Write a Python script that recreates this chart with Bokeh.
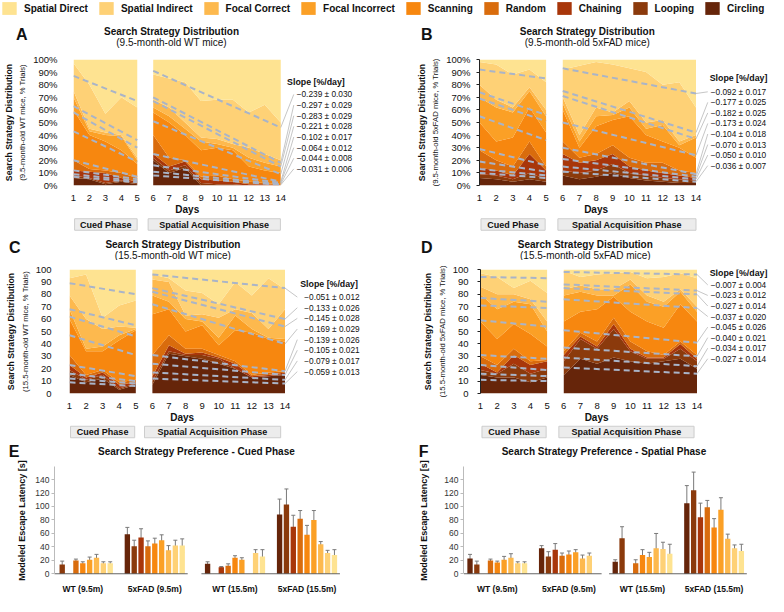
import numpy as np
from bokeh.plotting import figure
from bokeh.layouts import column, row
from bokeh.models import (ColumnDataSource, Legend, LegendItem, LinearAxis,
                          FixedTicker, Range1d, Whisker, TeeHead, PrintfTickFormatter)
from bokeh.core.properties import value
from bokeh.embed import file_html
from bokeh.resources import INLINE

FONT = "Liberation Sans"

# ---------------- categories ----------------
STRATEGIES = ["Circling", "Looping", "Chaining", "Random", "Scanning",
              "Focal Incorrect", "Focal Correct", "Spatial Indirect", "Spatial Direct"]
COLORS = ["#66250A", "#8B3A0C", "#A8360A", "#D96C0D", "#F7870F",
          "#FBA026", "#FDB94E", "#FED176", "#FEE391"]
LEGEND_ORDER = ["Spatial Direct", "Spatial Indirect", "Focal Correct", "Focal Incorrect",
                "Scanning", "Random", "Chaining", "Looping", "Circling"]
CUED_DAYS = [1, 2, 3, 4, 5]
SPATIAL_DAYS = [6, 7, 8, 9, 10, 11, 12, 13, 14]
DAY_TICKS = list(range(1, 15))
PCT_TICKS = list(range(0, 101, 10))
LATENCY_TICKS = list(range(0, 161, 20))
PHASES = ["Cued Phase", "Spatial Acquisition Phase"]

# ---------------- search strategy distributions (% trials per day) ----------------
# rows follow STRATEGIES order (Circling ... Spatial Direct)
A_CUED = [[6, 5, 1, 3, 1], [2, 1, 1, 1, 1], [4, 5, 8, 2, 1], [8, 2, 2, 4, 3],
          [40, 27, 23, 18, 11], [10, 3, 5, 11, 3], [5, 2, 2, 1, 2],
          [22, 35, 15, 30, 40], [3, 20, 43, 30, 38]]
A_SPATIAL = [[20, 10, 14, 0, 0, 0, 0, 0, 0], [2, 2, 2, 2, 1, 1, 0, 0, 0],
             [3, 3, 3, 3, 3, 2, 1, 1, 0], [15, 7, 1, 2, 4, 2, 2, 1, 1],
             [18, 28, 20, 21, 22, 23, 12, 10, 9], [4, 5, 5, 7, 3, 2, 7, 6, 5],
             [6, 7, 5, 3, 4, 3, 8, 7, 5], [20, 23, 32, 29, 31, 35, 28, 39, 30],
             [12, 15, 18, 33, 32, 32, 42, 36, 50]]
B_CUED = [[6, 5, 3, 5, 3], [3, 3, 2, 5, 2], [5, 4, 3, 15, 7], [14, 8, 7, 10, 3],
          [22, 15, 23, 27, 27], [20, 27, 20, 13, 13], [10, 6, 4, 3, 5],
          [18, 28, 26, 14, 22], [2, 4, 12, 8, 18]]
B_SPATIAL = [[8, 5, 7, 10, 6, 4, 3, 2, 2], [4, 5, 5, 7, 4, 4, 3, 3, 2],
             [13, 8, 8, 8, 5, 4, 4, 3, 2], [10, 4, 5, 7, 7, 6, 8, 4, 4],
             [25, 8, 22, 20, 33, 22, 17, 18, 12], [5, 5, 8, 4, 7, 5, 13, 2, 16],
             [5, 5, 7, 2, 5, 5, 4, 3, 2], [22, 55, 36, 38, 26, 40, 28, 47, 22],
             [8, 5, 2, 4, 7, 10, 20, 18, 38]]
C_CUED = [[15, 9, 12, 3, 7], [4, 2, 3, 1, 1], [4, 2, 2, 3, 1], [8, 2, 2, 2, 2],
          [29, 19, 15, 34, 40], [8, 2, 4, 4, 1], [11, 24, 14, 7, 1],
          [14, 36, 9, 17, 22], [7, 4, 39, 29, 25]]
C_SPATIAL = [[7, 32, 30, 28, 24, 20, 13, 14, 15], [3, 2, 1, 3, 4, 0, 0, 0, 1],
             [4, 5, 1, 2, 1, 4, 1, 1, 1], [17, 8, 4, 3, 2, 2, 1, 2, 1],
             [33, 21, 14, 19, 8, 25, 34, 27, 24], [15, 6, 10, 3, 6, 12, 3, 1, 2],
             [13, 16, 3, 6, 16, 5, 13, 7, 24], [4, 3, 20, 17, 11, 22, 14, 41, 16],
             [4, 7, 17, 19, 28, 10, 21, 7, 16]]
D_CUED = [[15, 13, 13, 9, 13], [4, 3, 11, 7, 7], [5, 1, 7, 7, 6], [6, 6, 5, 3, 1],
          [28, 21, 20, 22, 11], [22, 24, 18, 24, 12], [6, 12, 6, 4, 8],
          [11, 14, 5, 15, 23], [3, 6, 15, 9, 19]]
D_SPATIAL = [[15, 28, 24, 29, 26, 24, 26, 28, 20], [11, 16, 12, 23, 8, 4, 2, 8, 6],
             [5, 2, 2, 4, 2, 1, 1, 4, 2], [3, 3, 4, 5, 6, 5, 2, 2, 3],
             [24, 17, 26, 17, 24, 24, 22, 30, 27], [21, 16, 11, 1, 22, 16, 17, 10, 8],
             [5, 5, 5, 5, 4, 5, 4, 2, 4], [15, 7, 12, 13, 6, 14, 20, 13, 23],
             [1, 6, 4, 3, 2, 7, 6, 3, 7]]

# ---------------- fitted trend lines (first day, last day), top boundary first ----------------
A_TREND_CUED = ([87, 63, 58, 43, 20, 12, 9, 7], [67, 36, 30, 19, 7, 5, 3.5, 2.5])
A_TREND_SPATIAL = ([91, 70, 67, 51, 25, 16, 11, 8], [46, 18, 15, 9, 3, 2, 1, 0.5])
B_TREND_CUED = ([92, 74, 69, 55, 29, 19, 13, 10], [85, 56, 51, 36, 16, 11, 8, 6])
B_TREND_SPATIAL = ([93, 75, 71, 50, 30, 21, 15, 11], [73, 42, 37, 24, 9, 7, 5, 3])
C_TREND_CUED = ([89, 68, 62, 47, 23, 16, 12, 9], [80, 55, 46, 31, 14, 10, 8, 6])
C_TREND_SPATIAL = ([96, 85, 82, 72, 31, 24, 17, 12], [85, 60, 54, 40, 18, 15, 11, 8])
D_TREND_CUED = ([94, 77, 71, 59, 31, 23, 16, 11], [93, 74, 69, 54, 28, 19, 14, 10])
D_TREND_SPATIAL = ([98, 88, 85, 76, 51, 37, 29, 21], [96, 83, 80, 69, 41, 30, 22, 16])

A_SLOPES = ["−0.239 ± 0.030", "−0.297 ± 0.029", "−0.283 ± 0.029", "−0.221 ± 0.028",
            "−0.102 ± 0.017", "−0.064 ± 0.012", "−0.044 ± 0.008", "−0.031 ± 0.006"]
B_SLOPES = ["−0.092 ± 0.017", "−0.177 ± 0.025", "−0.182 ± 0.025", "−0.173 ± 0.024",
            "−0.104 ± 0.018", "−0.070 ± 0.013", "−0.050 ± 0.010", "−0.036 ± 0.007"]
C_SLOPES = ["−0.051 ± 0.012", "−0.133 ± 0.026", "−0.145 ± 0.028", "−0.169 ± 0.029",
            "−0.139 ± 0.026", "−0.105 ± 0.021", "−0.079 ± 0.017", "−0.059 ± 0.013"]
D_SLOPES = ["−0.007 ± 0.004", "−0.023 ± 0.012", "−0.027 ± 0.014", "−0.037 ± 0.020",
            "−0.045 ± 0.026", "−0.040 ± 0.021", "−0.034 ± 0.017", "−0.027 ± 0.014"]

# ---------------- modeled escape latency [s] (STRATEGIES order, None = not present) ----------------
GROUPS = ["WT (9.5m)", "5xFAD (9.5m)", "WT (15.5m)", "5xFAD (15.5m)"]
E_VALUES = [[None, 14, None, 20, 16, 21, 24, 16, 16],
            [59, 41, 54, 41, 45, 50, 35, 42, 42],
            [15, None, 10, 12, 24, 21, None, 31, 26],
            [88, 103, 70, 82, 58, 80, 44, 31, 28]]
E_ERRORS = [[None, 5, None, 2, 2, 4, 5, 2, 2],
            [10, 9, 13, 8, 8, 8, 7, 8, 10],
            [3, None, 1, 3, 3, 3, None, 5, 10],
            [23, 23, 17, 12, 14, 14, 4, 4, 8]]
F_VALUES = [[23, 14, None, 20, 17, 21, 24, 16, 16],
            [38, 26, 36, 27, 29, 32, 23, 27, None],
            [18, 53, None, 16, 28, 25, 38, 37, 30],
            [105, 124, 84, 99, 69, 95, 52, 38, 34]]
F_ERRORS = [[6, 5, None, 2, 2, 5, 6, 2, 2],
            [4, 7, 9, 4, 5, 4, 5, 4, None],
            [3, 17, None, 5, 8, 7, 22, 10, 14],
            [26, 27, 21, 10, 13, 18, 7, 5, 10]]

# ---------------- layout helpers ----------------
SX = 768 / 784
SY = 596 / 612
TREND_COLOR = "#A9B4C8"
TEXT = "#111111"


def base_fig(w, h, xr, yr, bl=0, br=0, bt=0, bb=0):
    p = figure(width=w, height=h, x_range=xr, y_range=yr, x_axis_type=None, y_axis_type=None,
               min_border_left=bl, min_border_right=br, min_border_top=bt, min_border_bottom=bb,
               output_backend="svg", toolbar_location=None)
    p.outline_line_color = None
    p.background_fill_color = "white"
    p.border_fill_color = "white"
    return p


def strip(fig_x, top, bottom, fl, fr, w=384):
    """A text band whose frame lines up with the panel frame; x in content px of the figure."""
    h = bottom - top
    p = base_fig(w, h, Range1d(fl - fig_x, fr - fig_x), Range1d(h, 0),
                 bl=fl - fig_x, br=fig_x + w - fr)
    return p, (lambda rx: rx * SX - fig_x)


def letter_axis(p, y, letter, standoff):
    ax = LinearAxis(ticker=FixedTicker(ticks=[y]), major_label_overrides={y: letter})
    ax.axis_line_color = None
    ax.major_tick_line_color = None
    ax.minor_tick_line_color = None
    ax.major_tick_out = 0
    ax.major_tick_in = 0
    ax.major_label_standoff = int(standoff)
    ax.major_label_text_font = FONT
    ax.major_label_text_font_size = "16px"
    ax.major_label_text_font_style = "bold"
    ax.major_label_text_color = TEXT
    p.add_layout(ax, "left")


def put_text(p, x, y, txt, size, bold=False, align="center"):
    p.text(x=[x], y=[y], text=[txt], text_font=value(FONT), text_font_size=size,
           text_font_style="bold" if bold else "normal", text_align=align,
           text_baseline="middle", text_color=TEXT)


def area_panel(G, fig_x, row_top, row_bottom, w, cued, spatial, tr_cued, tr_spatial,
               slopes, subtitle, ylab, letter, pct, axis_line):
    fl = round(G["frame_l"] * SX)
    fr = min(fig_x + w, round(G["frame_r"] * SX))
    ft = round(G["frame_t"] * SY)
    fb = round(G["frame_b"] * SY)
    main_top = ft - G["bt"]
    main_bottom = fb + G["bb"]
    ppd = (G["d14"] - G["frame_l"]) * SX / 13.0
    ppv = (fb - ft) / 100.0
    xr = Range1d(1 - 1e-6, 1 + (fr - fl) / ppd)
    yr = Range1d(-1e-6, 100)

    def dx(r):
        return 1 + (r * SX - fl) / ppd

    def dy(r):
        return (fb - r * SY) / ppv

    p = base_fig(w, main_bottom - main_top, xr, yr, bl=fl - fig_x, br=fig_x + w - fr,
                 bt=G["bt"], bb=G["bb"])

    for days, rows in ((CUED_DAYS, cued), (SPATIAL_DAYS, spatial)):
        data = {"day": days}
        for s, r in zip(STRATEGIES, rows):
            data[s] = r
        p.varea_stack(stackers=STRATEGIES, x="day", color=COLORS,
                      source=ColumnDataSource(data))

    for days, (st, en) in ((CUED_DAYS, tr_cued), (SPATIAL_DAYS, tr_spatial)):
        p.segment(x0=[days[0]] * len(st), y0=st, x1=[days[-1]] * len(en), y1=en,
                  line_color=TREND_COLOR, line_width=2, line_dash="6 4")

    label_y = [dy(G["sl_y0"] + i * G["sl_dy"]) for i in range(len(slopes))]
    p.segment(x0=[SPATIAL_DAYS[-1]] * len(slopes), y0=tr_spatial[1],
              x1=[dx(G["leader_x"])] * len(slopes), y1=label_y,
              line_color="#B8B8B8", line_width=0.8)
    p.text(x=[dx(G["sl_x"])] * len(slopes), y=label_y, text=slopes,
           text_font=value(FONT), text_font_size="8.3px", text_align="left",
           text_baseline="middle", text_color=TEXT)
    p.text(x=[dx(G["st_x"])], y=[dy(G["st_y"])], text=["Slope [%/day]"],
           text_font=value(FONT), text_font_size="8.8px", text_font_style="bold",
           text_align="left", text_baseline="middle", text_color=TEXT)

    xa = LinearAxis(ticker=FixedTicker(ticks=DAY_TICKS), bounds=(1, 14))
    xa.axis_line_color = None
    xa.major_tick_line_color = None
    xa.minor_tick_line_color = None
    xa.major_label_standoff = 3
    xa.major_label_text_font = FONT
    xa.major_label_text_font_size = "9.5px"
    xa.major_label_text_color = TEXT
    p.add_layout(xa, "below")

    ya = LinearAxis(ticker=FixedTicker(ticks=PCT_TICKS), axis_label=ylab, bounds=(0, 100))
    if pct:
        ya.formatter = PrintfTickFormatter(format="%d%%")
    if axis_line:
        ya.axis_line_color = "#222222"
        ya.major_tick_line_color = "#222222"
        ya.major_tick_out = 3
        ya.major_tick_in = 0
    else:
        ya.axis_line_color = None
        ya.major_tick_line_color = None
    ya.minor_tick_line_color = None
    ya.major_label_standoff = G["yl_standoff"]
    ya.major_label_text_font = FONT
    ya.major_label_text_font_size = "9.5px"
    ya.major_label_text_color = TEXT
    ya.axis_label_standoff = 3
    ya.axis_label_text_font = FONT
    ya.axis_label_text_font_size = "7.7px"
    ya.axis_label_text_font_style = "normal"
    ya.axis_label_text_color = TEXT
    p.add_layout(ya, "left")

    ya2 = LinearAxis(ticker=FixedTicker(ticks=[]), axis_label="Search Strategy Distribution",
                     bounds=(0, 100))
    ya2.axis_line_color = None
    ya2.major_tick_line_color = None
    ya2.minor_tick_line_color = None
    ya2.major_label_standoff = 0
    ya2.major_tick_out = 0
    ya2.axis_label_standoff = 2
    ya2.axis_label_text_font = FONT
    ya2.axis_label_text_font_size = "8.7px"
    ya2.axis_label_text_font_style = "bold"
    ya2.axis_label_text_color = TEXT
    p.add_layout(ya2, "left")

    # title band
    top, tx = strip(fig_x, row_top, main_top, fl, fr, w)
    put_text(top, tx(G["title_x"]), G["title_y"], "Search Strategy Distribution", "10px", True)
    put_text(top, tx(G["title_x"]), G["title_y"] + 10.5, subtitle, "10px")
    letter_axis(top, G["title_y"] + 3, letter, (fl - fig_x) - (G["letter_r"] * SX - fig_x))

    # "Days" + phase band
    bot, bx = strip(fig_x, main_bottom, row_bottom, fl, fr, w)
    put_text(bot, bx(G["days_x"]), 6, "Days", "10px", True)
    for (x0, x1), name in zip(G["boxes"], PHASES):
        bot.rect(x=[bx((x0 + x1) / 2)], y=[G["box_y"]], width=[(x1 - x0) * SX], height=[11.5],
                 fill_color="#ECECEC", line_color="#CDCDCD", line_width=1)
        put_text(bot, bx((x0 + x1) / 2), G["box_y"], name, "9px", True)
    return column(top, p, bot)


def bar_panel(G, fig_x, row_top, row_bottom, w, values, errors, title, letter, extra):
    fl = round(G["frame_l"] * SX)
    fr = round(G["frame_r"] * SX)
    ft = round(G["frame_t"] * SY)
    fb = round(G["frame_b"] * SY)
    main_top = ft - G["bt"]
    s0 = G["slot0"] * SX
    ppu = G["ppu"] * SX
    y0 = G["y0"] * SY
    ytop = G["y160"] * SY
    ppv = (y0 - ytop) / 160.0
    xr = Range1d((fl - s0) / ppu, (fr - s0) / ppu)
    yr = Range1d((y0 - fb) / ppv, (y0 - ft) / ppv)
    p = base_fig(w, row_bottom - main_top, xr, yr, bl=fl - fig_x, br=fig_x + w - fr,
                 bt=G["bt"], bb=row_bottom - fb)

    pitch = 10.5
    starts = [g * pitch + (extra if g >= 2 else 0.0) for g in range(len(GROUPS))]
    xs, tops, lo, hi, cols = [], [], [], [], []
    for g, (vals, errs) in enumerate(zip(values, errors)):
        for k, (v, e) in enumerate(zip(vals, errs)):
            if v is None:
                continue
            xs.append(starts[g] + k)
            tops.append(v)
            lo.append(v - e)
            hi.append(v + e)
            cols.append(COLORS[k])
    src = ColumnDataSource(dict(x=xs, top=tops, lower=lo, upper=hi, color=cols))
    p.vbar(x="x", top="top", width=0.78, fill_color="color", line_color=None, source=src)
    p.add_layout(Whisker(source=src, base="x", upper="upper", lower="lower",
                         line_color="#7A7A7A", line_width=1,
                         upper_head=TeeHead(size=4, line_color="#7A7A7A", line_width=1),
                         lower_head=TeeHead(size=4, line_color="#7A7A7A", line_width=1)))
    nslot = len(STRATEGIES) - 1
    p.segment(x0=[starts[0] - 0.9, starts[2] - 0.9], y0=[0, 0],
              x1=[starts[1] + nslot + 0.8, starts[3] + nslot + 0.8], y1=[0, 0],
              line_color="#666666", line_width=1.2)

    centers = [s + nslot / 2 for s in starts]
    xa = LinearAxis(ticker=FixedTicker(ticks=centers),
                    major_label_overrides={c: gname for c, gname in zip(centers, GROUPS)})
    xa.axis_line_color = None
    xa.major_tick_line_color = None
    xa.minor_tick_line_color = None
    xa.major_label_standoff = 3
    xa.major_label_text_font = FONT
    xa.major_label_text_font_size = "8.5px"
    xa.major_label_text_font_style = "bold"
    xa.major_label_text_color = TEXT
    p.add_layout(xa, "below")

    ya = LinearAxis(ticker=FixedTicker(ticks=LATENCY_TICKS), bounds=(0, 160),
                    axis_label="Modeled Escape Latency [s]")
    ya.axis_line_color = "#BBBBBB"
    ya.major_tick_line_color = "#BBBBBB"
    ya.major_tick_out = 3
    ya.major_tick_in = 0
    ya.minor_tick_line_color = None
    ya.major_label_standoff = 2
    ya.major_label_text_font = FONT
    ya.major_label_text_font_size = "8.5px"
    ya.major_label_text_color = "#333333"
    ya.axis_label_standoff = G["ylab_standoff"]
    ya.axis_label_text_font = FONT
    ya.axis_label_text_font_size = "9px"
    ya.axis_label_text_font_style = "bold"
    ya.axis_label_text_color = TEXT
    p.add_layout(ya, "left")

    top, tx = strip(fig_x, row_top, main_top, fl, fr, w)
    put_text(top, tx(G["title_x"]), G["title_y"], title, "10px", True)
    letter_axis(top, G["title_y"], letter, (fl - fig_x) - (G["letter_r"] * SX - fig_x))
    return column(top, p)


# ---------------- legend ----------------
leg = base_fig(768, 21, Range1d(0, 1), Range1d(0, 1))
leg.min_border = 0
items = []
for name in LEGEND_ORDER:
    c = COLORS[STRATEGIES.index(name)]
    r = leg.varea(x=[0.0, 0.0], y1=[0.0, 0.0], y2=[0.0, 0.0], fill_color=c)
    items.append(LegendItem(label=name, renderers=[r]))
legend = Legend(items=items, orientation="horizontal", location="top_left",
                glyph_width=18, glyph_height=16, label_height=16, label_standoff=6,
                spacing=9, padding=0, margin=0, border_line_color=None,
                background_fill_alpha=0, label_text_font=FONT, label_text_font_size="10px",
                label_text_font_style="bold", label_text_color=TEXT)
leg.add_layout(legend)

# ---------------- panel geometry (reference pixels; band offsets in content pixels) ----------------
GA = dict(frame_l=66, frame_r=392, frame_t=61, frame_b=192, d14=283, bt=10, bb=16,
          sl_x=300, sl_y0=97, sl_dy=11.1, leader_x=297, st_x=290, st_y=84, yl_standoff=10,
          title_x=169, title_y=10, letter_r=19, days_x=185.5,
          boxes=[(67.5, 133), (144.5, 283)], box_y=21)
GB = dict(frame_l=489, frame_r=784, frame_t=61, frame_b=192, d14=710, bt=10, bb=16,
          sl_x=725, sl_y0=94.3, sl_dy=11.0, leader_x=722, st_x=724, st_y=80, yl_standoff=6,
          title_x=599, title_y=10, letter_r=440, days_x=608,
          boxes=[(490.5, 556), (569, 710)], box_y=21)
GC = dict(frame_l=70, frame_r=392, frame_t=276, frame_b=406, d14=290, bt=9, bb=16,
          sl_x=310, sl_y0=305, sl_dy=11.1, leader_x=303, st_x=306, st_y=291, yl_standoff=12,
          title_x=176, title_y=7, letter_r=20, days_x=185.5,
          boxes=[(71.5, 137), (147, 286)], box_y=20.5)
GD = dict(frame_l=490, frame_r=784, frame_t=276, frame_b=406, d14=711, bt=9, bb=16,
          sl_x=725, sl_y0=292.3, sl_dy=11.0, leader_x=722, st_x=724, st_y=280, yl_standoff=9,
          title_x=597, title_y=7, letter_r=440, days_x=608.5,
          boxes=[(491.5, 557), (570, 708)], box_y=20.5)
GE = dict(frame_l=55, frame_r=352, frame_t=478, frame_b=598, slot0=56, ppu=7.0, y0=597,
          y160=478, bt=6, ylab_standoff=5, title_x=200, title_y=11, letter_r=19)
GF = dict(frame_l=473, frame_r=772, frame_t=478, frame_b=598, slot0=479.3, ppu=6.96, y0=597,
          y160=478, bt=6, ylab_standoff=12, title_x=616, title_y=11, letter_r=436)

pA = area_panel(GA, 0, 21, 237, 384, A_CUED, A_SPATIAL, A_TREND_CUED, A_TREND_SPATIAL, A_SLOPES,
                "(9.5-month-old WT mice)", "(9.5-month-old WT mice, % Trials)", "A", True, False)
pB = area_panel(GB, 384, 21, 237, 384, B_CUED, B_SPATIAL, B_TREND_CUED, B_TREND_SPATIAL,
                B_SLOPES, "(9.5-month-old 5xFAD mice)", "(9.5-month-old 5xFAD mice, % Trials)",
                "B", True, True)
pC = area_panel(GC, 0, 237, 440, 384, C_CUED, C_SPATIAL, C_TREND_CUED, C_TREND_SPATIAL,
                C_SLOPES, "(15.5-month-old WT mice)", "(15.5-month-old WT mice, % Trials)",
                "C", False, False)
pD = area_panel(GD, 384, 237, 440, 384, D_CUED, D_SPATIAL, D_TREND_CUED, D_TREND_SPATIAL,
                D_SLOPES, "(15.5-month-old 5xFAD mice)", "(15.5-month-old 5xFAD mice, % Trials)",
                "D", False, True)
pE = bar_panel(GE, 0, 440, 596, 384, E_VALUES, E_ERRORS,
               "Search Strategy Preference - Cued Phase", "E", 1.2)
pF = bar_panel(GF, 384, 440, 596, 384, F_VALUES, F_ERRORS,
               "Search Strategy Preference - Spatial Phase", "F", 0.3)

layout = column(leg, row(pA, pB), row(pC, pD), row(pE, pF))
open("out.html", "w").write(file_html(layout, INLINE))
